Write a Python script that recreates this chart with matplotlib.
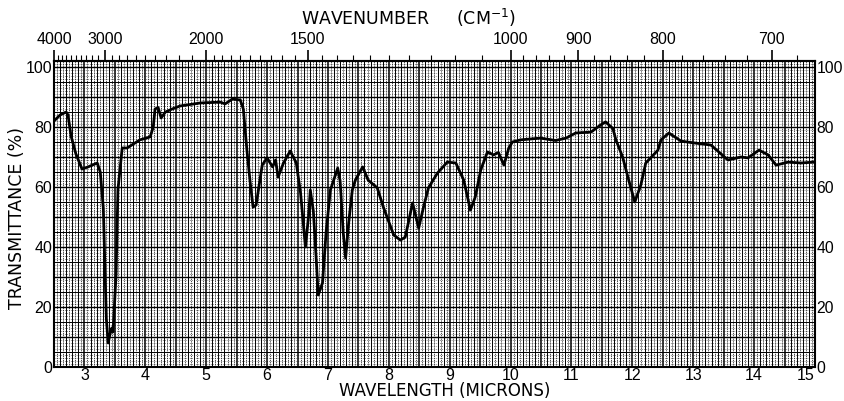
import numpy as np
import matplotlib
matplotlib.use("Agg")
import matplotlib.pyplot as plt
from matplotlib.ticker import FixedLocator

wavelength = [2.50, 2.60, 2.70, 2.73, 2.78, 2.86, 2.96, 3.06, 3.21, 3.26, 3.31, 3.36, 3.39,
              3.42, 3.45, 3.47, 3.52, 3.55, 3.62, 3.70, 3.91, 4.08, 4.13, 4.16, 4.21, 4.26,
              4.33, 4.44, 4.57, 4.90, 5.23, 5.31, 5.43, 5.56, 5.61, 5.67, 5.72, 5.77, 5.82,
              5.92, 6.00, 6.09, 6.14, 6.18, 6.27, 6.38, 6.48, 6.55, 6.63, 6.68, 6.71, 6.76,
              6.81, 6.84, 6.91, 6.97, 7.04, 7.16, 7.20, 7.25, 7.29, 7.34, 7.40, 7.45, 7.57,
              7.66, 7.81, 7.91, 8.08, 8.19, 8.27, 8.39, 8.49, 8.57, 8.65, 8.80, 8.96, 9.10,
              9.23, 9.34, 9.42, 9.51, 9.62, 9.72, 9.80, 9.89, 9.97, 10.03, 10.16, 10.49,
              10.74, 10.91, 11.07, 11.32, 11.48, 11.56, 11.68, 11.73, 11.84, 11.94, 12.04,
              12.14, 12.22, 12.30, 12.42, 12.47, 12.60, 12.80, 13.01, 13.29, 13.57, 13.78,
              13.90, 14.08, 14.23, 14.36, 14.56, 14.77, 14.98]
transmittance = [82, 84, 85, 84, 77, 71, 66, 66.7, 68, 65, 53, 16, 8,
                 11, 13, 11.7, 31, 59, 73, 73, 75.7, 76.7, 80, 86, 86.5, 83,
                 85, 86, 87, 88, 88.3, 87.7, 89.3, 89, 86, 72, 62, 53.3, 54,
                 67.3, 69.7, 66.7, 69, 63.3, 68, 72, 68, 58, 40, 50, 59, 52,
                 35, 24, 28, 45, 59, 66.3, 62, 45, 36.3, 48, 59, 62.3, 66.7,
                 62.3, 59.7, 53.3, 44, 42.3, 43.3, 54.7, 46.3, 53.3, 59.7, 64.7, 68.3, 68,
                 62.3, 52.3, 56.7, 65.7, 71.7, 70.7, 71.5, 67.3, 73, 75, 75.7, 76.3,
                 75.5, 76.3, 78, 78.3, 80.7, 81.7, 79.5, 75.7, 70, 62.3, 55,
                 60.7, 68, 69.7, 72.3, 75.7, 78, 75.3, 74.7, 74, 69, 70,
                 69.7, 72.3, 70.7, 67.3, 68.3, 68, 68.3]

bottom_ticks = [3, 4, 5, 6, 7, 8, 9, 10, 11, 12, 13, 14, 15]
y_ticks = [0, 20, 40, 60, 80, 100]
top_ticks = [4000, 3000, 2000, 1500, 1000, 900, 800, 700]

plt.rcParams['font.family'] = ['DejaVu Sans']
TICKFONT = 'Liberation Sans'

W, H = 844, 401
fig = plt.figure(figsize=(W / 100, H / 100), dpi=100)
ax = fig.add_axes([54/W, 34/H, 761/W, 306/H])
ax.set_xlim(2.5, 15)
ax.set_ylim(0, 102)

# grid
for x in np.arange(2.5, 15.001, 0.05):
    k = int(round(x * 20))
    if k % 2 == 0:
        lw, ls, al = (1.1 if k % 10 == 0 else 0.7), '-', 1.0
    else:
        lw, ls, al = 0.6, (0, (1.5, 1.0)), 0.8
    ax.axvline(x, color='black', lw=lw, ls=ls, alpha=al, zorder=1)
for y in np.arange(0, 102, 1):
    if y % 10 == 0:
        ax.axhline(y, color='black', lw=1.0, zorder=1)
    elif y % 5 == 0:
        ax.axhline(y, color='black', lw=0.7, zorder=1)
    else:
        ax.axhline(y, color='black', lw=0.5, ls=(0, (1.5, 1.5)), alpha=0.6, zorder=1)

ax.plot(wavelength, transmittance, color='black', lw=2.0, zorder=3)

ax.set_xticks(bottom_ticks)
ax.set_xticklabels([str(t) for t in bottom_ticks], fontsize=11.5, family=TICKFONT)
ax.get_xticklabels()[-1].set_ha('right')
ax.set_yticks(y_ticks)
ax.set_yticklabels([str(t) for t in y_ticks], fontsize=11.5, family=TICKFONT)
ax.tick_params(axis='x', length=0, pad=1)
ax.tick_params(axis='y', length=0, labelright=True, right=False, pad=1.2)
for t in ax.yaxis.get_major_ticks():
    t.label2.set_family(TICKFONT)
    t.label2.set_fontsize(11.3)
for s in ax.spines.values():
    s.set_linewidth(1.5)

fig.text(445 / W, 1 - 391 / H, 'WAVELENGTH (MICRONS)', fontsize=12,
         ha='center', va='center')
fig.text(17 / W, 1 - 218 / H, 'TRANSMITTANCE (%)', fontsize=12.5,
         ha='center', va='center', rotation=90)
fig.text(408 / W, 1 - 18 / H, 'WAVENUMBER     (CM$^{-1}$)', fontsize=12.5,
         ha='center', va='center')

sec = ax.secondary_xaxis('top', functions=(lambda x: 10000.0 / np.asarray(x, dtype=float),
                                           lambda w: 10000.0 / np.asarray(w, dtype=float)))
sec.set_xticks(top_ticks)
sec.set_xticklabels([str(t) for t in top_ticks], fontsize=11.5, family=TICKFONT)
minor = list(range(2100, 4000, 100)) + list(range(1050, 2000, 50)) + list(range(660, 1000, 20))
sec.xaxis.set_minor_locator(FixedLocator(minor))
sec.tick_params(axis='x', which='major', length=8, width=1.2, direction='out', pad=2)
sec.tick_params(axis='x', which='minor', length=4, width=0.8, direction='out')
sec.spines['top'].set_linewidth(1.5)

fig.savefig('out.png', dpi=100)
